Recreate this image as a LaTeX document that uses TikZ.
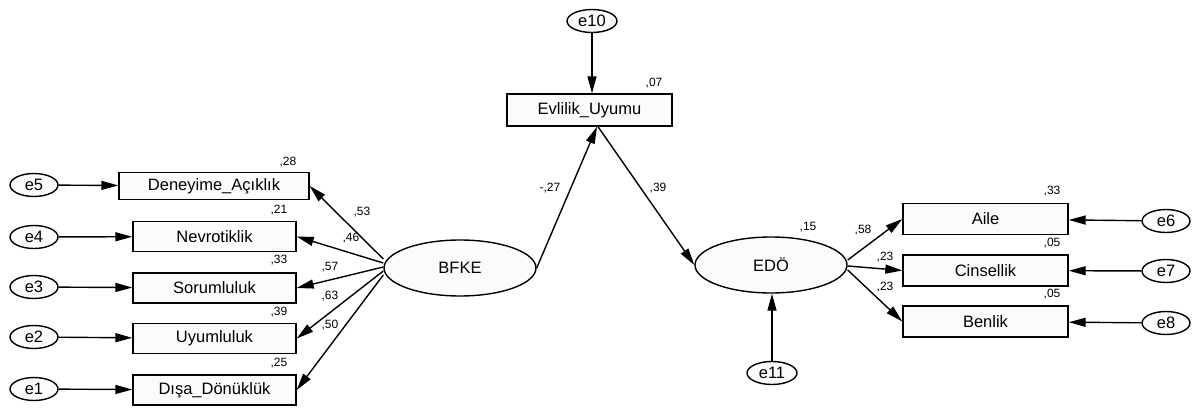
\documentclass[tikz,border=0pt]{standalone}
\usepackage{fontspec}
\setmainfont{Liberation Sans}
\usetikzlibrary{arrows.meta,shapes.geometric}
\definecolor{boxfill}{RGB}{250,251,253}
\tikzset{
  obs/.style={draw,fill=boxfill,line width=1.4pt,rectangle,inner sep=0pt,
    minimum width=163pt,minimum height=30pt,font=\fontsize{16.5}{18}\selectfont},
  lat/.style={draw,fill=boxfill,line width=1.4pt,ellipse,inner sep=0pt,
    minimum width=152pt,minimum height=56pt,font=\fontsize{16.5}{18}\selectfont},
  err/.style={draw,fill=boxfill,line width=1.4pt,ellipse,inner sep=0pt,
    minimum width=48pt,minimum height=23pt,font=\fontsize{16.5}{18}\selectfont},
  est/.style={inner sep=0pt,font=\fontsize{12}{14}\selectfont},
  arr/.style={line width=1.4pt,-{Triangle[length=17pt,width=9pt]}}
}
\begin{document}
\begin{tikzpicture}[x=1pt,y=-1pt]
\useasboundingbox (0,0) rectangle (1192,409);

%%% Latent variables
\node[lat] (bfke) at (460,268) {BFKE};
\node[lat] (edo) at (771,265) {EDÖ};

%%% Observed variables, left
\node[obs,minimum width=190pt,minimum height=27pt] (deneyime) at (214,186) {Deneyime\_Açıklık};
\node[obs] (nevro) at (214.5,236.5) {Nevrotiklik};
\node[obs] (sorum) at (214.5,288) {Sorumluluk};
\node[obs] (uyum) at (214.5,338.5) {Uyumluluk};
\node[obs] (disa) at (214.5,390) {Dışa\_Dönüklük};

%%% Observed variables, middle and right
\node[obs,minimum width=165pt,minimum height=32pt] (evlilik) at (589.5,110) {Evlilik\_Uyumu};
\node[obs,minimum width=165pt,minimum height=31pt] (aile) at (985.5,219) {Aile};
\node[obs,minimum width=165pt,minimum height=31pt] (cins) at (985.5,270.5) {Cinsellik};
\node[obs,minimum width=165pt,minimum height=31pt] (benlik) at (985.5,321.5) {Benlik};

%%% Error terms
\node[err] (e5) at (34,185) {e5};
\node[err] (e4) at (34,237) {e4};
\node[err] (e3) at (34,287) {e3};
\node[err] (e2) at (34,337) {e2};
\node[err] (e1) at (34,389) {e1};
\node[err,minimum width=50pt] (e10) at (592,21) {e10};
\node[err,minimum width=50pt] (e11) at (772,373) {e11};
\node[err] (e6) at (1166,221) {e6};
\node[err] (e7) at (1166,271) {e7};
\node[err] (e8) at (1166,323) {e8};

%%% Error arrows
\draw[arr] (e5) -- (deneyime);
\draw[arr] (e4) -- (nevro);
\draw[arr] (e3) -- (sorum);
\draw[arr] (e2) -- (uyum);
\draw[arr] (e1) -- (disa);
\draw[arr] (e10) -- (e10 |- evlilik.north);
\draw[arr] (e11) -- (e11 |- edo.south);
\draw[arr] (e6) -- (aile);
\draw[arr] (e7) -- (cins);
\draw[arr] (e8) -- (benlik);

%%% Loadings and paths
\draw[arr] ([yshift=9pt]bfke.west) -- (deneyime.east);
\draw[arr] ([yshift=5pt]bfke.west) -- (nevro.east);
\draw[arr] ([yshift=1pt]bfke.west) -- (sorum.east);
\draw[arr] ([yshift=-3pt]bfke.west) -- (uyum.east);
\draw[arr] ([yshift=-7pt]bfke.west) -- (disa.east);
\draw[arr] (bfke.east) -- ([xshift=7.5pt]evlilik.south);
\draw[arr] ([xshift=8.5pt]evlilik.south) -- (edo.west);
\draw[arr] ([yshift=5pt]edo.east) -- (aile.west);
\draw[arr] ([yshift=-1pt]edo.east) -- (cins.west);
\draw[arr] ([yshift=-5pt]edo.east) -- (benlik.west);

%%% Estimates
\node[est] (r28) at (288,162) {,28};
\node[est] (r21) at (279,210) {,21};
\node[est] (r33a) at (279,260) {,33};
\node[est] (r39) at (279,312) {,39};
\node[est] (r25) at (279,363) {,25};
\node[est] (w53) at (362,212) {,53};
\node[est] (w46) at (351,238) {,46};
\node[est] (w57) at (330,267) {,57};
\node[est] (w63) at (330,296) {,63};
\node[est] (w50) at (330,325) {,50};
\node[est] (r07) at (654,83) {,07};
\node[est] (w27) at (550,188) {-,27};
\node[est] (w39) at (658,188) {,39};
\node[est] (r15) at (808,227) {,15};
\node[est] (w58) at (863,230) {,58};
\node[est] (w23a) at (885,257) {,23};
\node[est] (w23b) at (885,287) {,23};
\node[est] (r33b) at (1052,191) {,33};
\node[est] (r05a) at (1052,243) {,05};
\node[est] (r05b) at (1052,294) {,05};
\end{tikzpicture}
\end{document}
